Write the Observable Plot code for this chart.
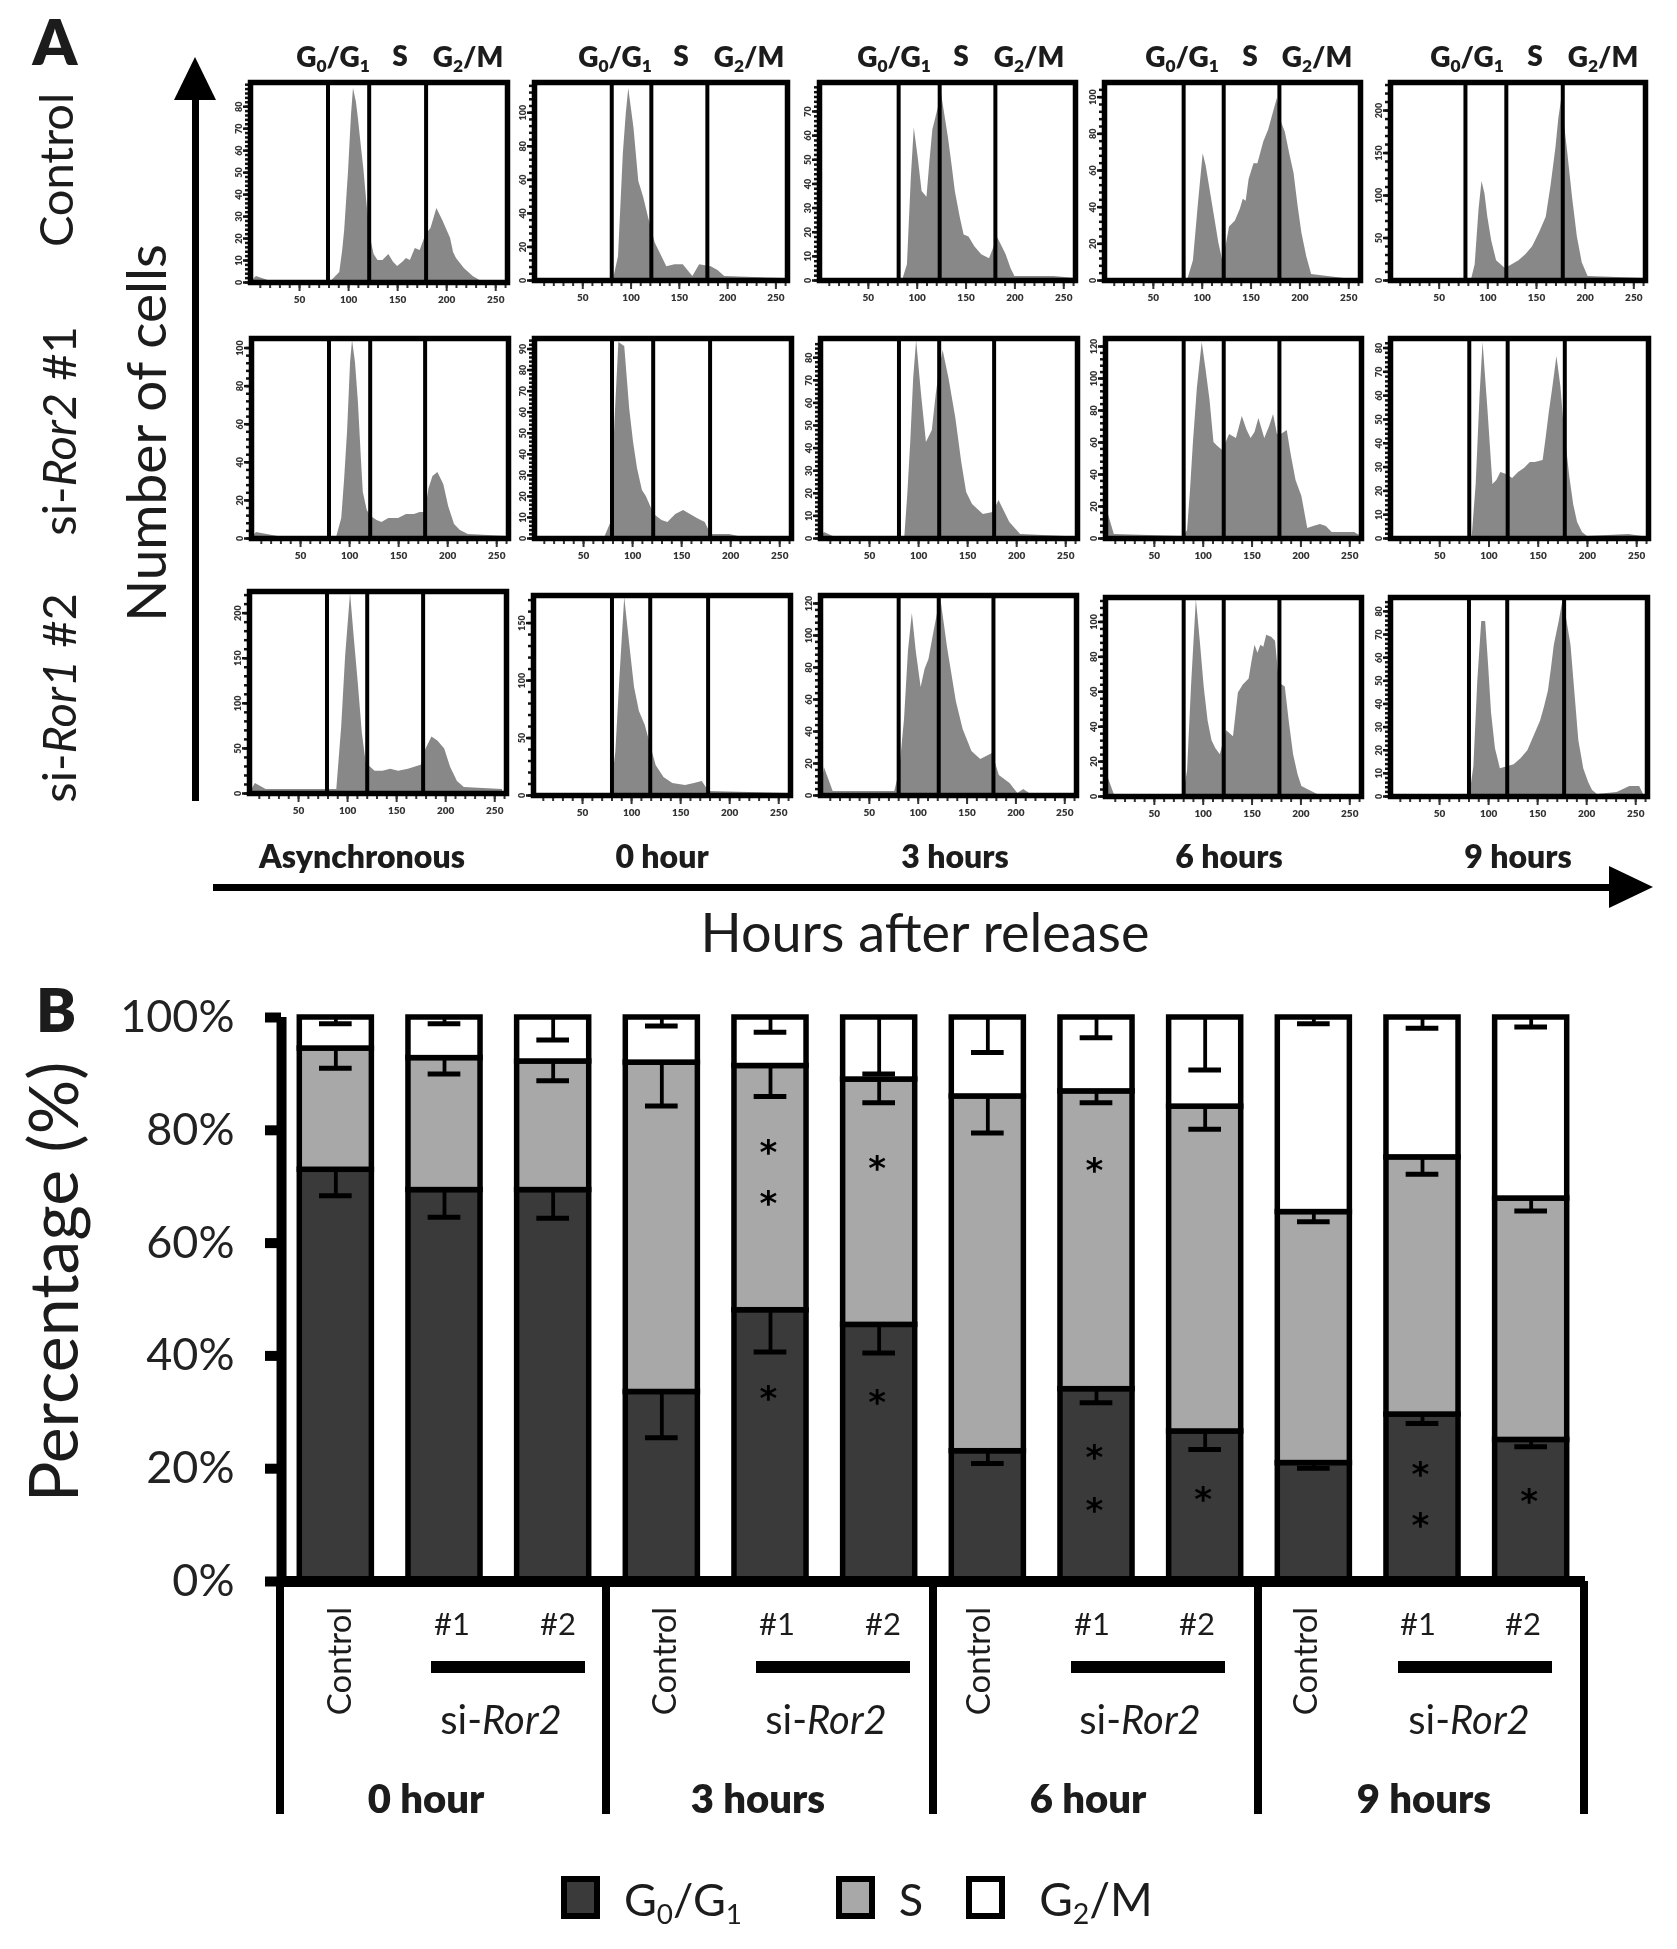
<!DOCTYPE html>
<html><head><meta charset="utf-8">
<script src="https://cdn.jsdelivr.net/npm/d3@7"></script>
<script src="https://cdn.jsdelivr.net/npm/@observablehq/plot@0.6"></script>
<style>
html,body{margin:0;padding:0;background:#fff}
#root{position:relative;width:1677px;height:1949px;overflow:hidden;background:#fff;font-family:Lato,sans-serif;color:#1c1c1c;filter:blur(.55px)}
#root svg{position:absolute;overflow:visible;background:transparent}
#root svg.panel{filter:blur(.5px)}
.t{position:absolute;white-space:nowrap;line-height:1.2}
.b{position:absolute;background:#000}
sub{font-size:.62em;line-height:0;vertical-align:-.28em}
</style></head><body><div id="root"></div>
<script>
// ---------- Panel A: flow histograms, [channel, % of frame height] ----------
const r1c1=[[0,0],[6,3],[18,1],[83,1],[91,5],[94,16],[96,26],[100,56],[103,84],[105,97],[108,90],[110,82],[113,68],[115.5,57],[119,38],[123,21],[126,14],[130,11],[135,11],[141,14],[146,10],[150,8],[155,10],[159,12],[163,11],[168,17],[173,16],[179,24],[184,27],[190,37],[196,31],[204,22],[207,15],[210,12],[218,7],[227,3],[234,1],[262,1]];
const r1c2=[[2,1],[82,1],[87,12],[92,64],[95,84],[97.6,97],[103,77],[108,50],[113,42],[118,32],[125,19],[131,13],[137,7],[145.5,8],[154,8],[164,2],[171,8],[183,7],[190,5],[197,2],[258,1]];
const r1c3=[[3,1],[85,0],[90,8],[94,52],[97,77],[101,62],[105,45],[110,42],[113,60],[116,76],[120,84],[125,94],[132,72],[136,57],[139,45],[144,32],[148,23],[153,22],[159,17],[166,13],[174,11],[178,16],[182,22],[187,17],[191,13],[196,6],[200,2],[222,2],[240,2],[262,1]];
const r1c4=[[2,0],[85,0],[91,10],[96,38],[101,64],[104,58],[108,46],[113,31],[117,19],[121,10],[125,19],[128,27],[134,30],[139,36],[142,41],[145,40],[148,51],[153,59],[157,59],[163,70],[168,76],[173,85],[177,92],[181,80],[185,75],[190,63],[194,54],[198,38],[202,24],[207,12],[212,3],[262,0]];
const r1c5=[[2,1],[83,0],[87,8],[91,36],[94,50],[97,44],[100,32],[104,20],[109,10],[118,6],[125,8],[132,10],[139,13],[146,17],[153,24],[160,32],[165,48],[170,67],[173,82],[176,92],[179,78],[182,65],[187,42],[192,22],[197,9],[203,2],[262,1]];
const r2c1=[[0,0],[5,3],[27,1],[87,1],[92,10],[95,30],[98,54],[101,88],[103,99],[106,88],[109,68],[112,40],[114,23],[118,14],[122,11],[128,9],[133,8],[140,10],[150,10],[158,12],[166,12],[172,13],[177,13],[181,25],[185,31],[190,33],[196,27],[201,16],[207,7],[213,4],[221,2],[262,1]];
const r2c2=[[3,1],[72,1],[78,8],[82,58],[86,98],[92,96],[97,65],[101,48],[105,35],[110,24],[114,21],[122,12],[130,9],[136,8],[144,12],[152,14],[159,12],[166,10],[174,8],[180,2],[199,2],[208,1],[262,0]];
const r2c3=[[0,0],[4,3],[13,1],[86,1],[89,22],[92,48],[95,80],[98,99],[103,72],[108,48],[114,54],[118,72],[122,86],[125,94],[131,80],[138,60],[144,38],[149,23],[155,17],[166,12],[176,13],[182,19],[188,13],[193,8],[204,2],[250,1],[262,1]];
const r2c4=[[0,0],[3,12],[9,2],[80,1],[84,4],[87,24],[90,48],[94,75],[99,98],[103,84],[107,69],[111,48],[115,46],[120,44],[127,52],[134,50],[140,61],[145,54],[149,50],[153,53],[157,60],[163,50],[168,56],[172,62],[176,52],[180,52],[186,54],[190,42],[195,29],[201,21],[207,5],[213,6],[220,7],[226,6],[232,3],[255,3],[262,1]];
const r2c5=[[3,1],[83,1],[87,27],[91,72],[94,98],[99,64],[104,27],[108,29],[112,33],[118,32],[124,30],[130,33],[136,35],[142,38],[147,38],[155,39],[158,50],[161,62],[165,76],[169,91],[173,76],[176,58],[182,31],[186,17],[190,8],[195,3],[200,1],[242,2],[256,1]];
const r3c1=[[0,0],[6,5],[17,2],[89,2],[94,33],[98,68],[103,99],[107,76],[111,54],[115,30],[119,15],[128,11],[136,11],[144,12],[152,11],[162,12],[175,14],[180,22],[186,28],[192,26],[199,22],[205,13],[212,6],[219,3],[258,2]];
const r3c2=[[3,1],[79,1],[84,22],[88,58],[93,99],[98,76],[103,54],[108,42],[114,35],[120,24],[125,15],[133,9],[142,6],[155,5],[164,6],[172,7],[179,2],[258,1]];
const r3c3=[[0,0],[4,14],[13,2],[76,2],[81,12],[86,38],[90,72],[94,91],[98,72],[103,54],[107,63],[111,68],[117,84],[123,99],[130,74],[139,47],[146,33],[155,22],[164,18],[176,21],[183,10],[194,6],[202,1],[208,3],[214,1],[262,1]];
const r3c4=[[0,0],[3,9],[9,1],[80,1],[84,13],[88,55],[93,99],[97,78],[101,55],[105,38],[109,28],[113,24],[117.5,21],[124,33],[131,30],[136,52],[141,56],[147,59],[150,68],[153,76],[156,72],[159,76],[162,75],[165,81],[170,80],[174,78],[178,57],[184,55],[188,38],[192.5,21],[197,11],[201,5],[217,1],[262,1]];
const r3c5=[[3,1],[81,1],[85,15],[89,58],[93,88],[97,88],[100,66],[103,42],[107,24],[112,14],[119,15],[126,16],[133,19],[140,23],[147,31],[153,38],[157,45],[161,53],[164,64],[167,76],[172,88],[176,99],[180,88],[184,76],[188,52],[192,28],[197,14],[202,7],[206,3],[211,1],[231,2],[244,5],[254,5],[258,1]];
const histograms=[[r1c1,r1c2,r1c3,r1c4,r1c5],[r2c1,r2c2,r2c3,r2c4,r2c5],[r3c1,r3c2,r3c3,r3c4,r3c5]];
const gates=[
 [[79,121,179],[80,121,179],[81,123,180],[81,122,179],[77,119,177]],
 [[79,121,177],[79,121,179],[80,121,177],[80,121,178],[80,119,177]],
 [[79,120,177],[80,119,178],[80,121,177],[80,121,178],[80,119,177]]];
const yMax=[[91,118,82,108,233],[105,95,88.5,125,84],[224,174,125,114,86]];
const yStep=[[10,20,10,20,50],[20,10,10,20,10],[50,50,20,20,10]];
const xTicks=[50,100,150,200,250];
// ---------- Panel placement ----------
const lefts=[[250,534,819,1104,1390],[251,534,820,1105,1390],[249,533,820,1105,1390]];
const rights=[[507,787,1075,1360,1645],[508,791,1077,1361,1648],[506,790,1076,1361,1647]];
const tops=[[82,82,82,82,82],[338,338,338,338,338],[591,595,595,597,597]];
const bottoms=[[282,280,280,280,280],[538,538,538,538,538],[793,795,795,796,796]];
// ---------- Panel B: stacked bars ----------
const barKeys=["0h Control","0h #1","0h #2","3h Control","3h #1","3h #2","6h Control","6h #1","6h #2","9h Control","9h #1","9h #2"];
const phases=["G0/G1","S","G2/M"];
const g0g1=[73,69.4,69.4,33.6,48.1,45.5,23.1,34.1,26.6,21,29.6,25.1];
const sPhase=[21.5,23.4,22.8,58.4,43.3,43.5,62.9,52.8,57.6,44.5,45.6,42.8];
const g2m=[5.5,7.2,7.8,8,8.6,11,14,13.1,15.8,34.5,24.8,32.1];
const g0Low=[68.4,64.6,64.4,25.5,40.7,40.5,20.9,31.7,23.4,20.1,28,23.9];
const sLow=[91,90,88.8,84.3,86,84.9,79.5,84.9,80.2,63.8,72.2,65.7];
const g2Low=[98.9,98.9,96,98.5,97.4,90,93.8,96.4,90.7,98.9,98.1,98.3];
const stars=[["3h #1",77.2],["3h #1",68.1],["3h #1",33.6],["3h #2",74.3],["3h #2",32.8],["6h #1",74],["6h #1",23.1],["6h #1",13.8],["6h #2",15.7],["9h #1",20.1],["9h #1",11],["9h #2",15.4]];
const percentTicks=[0,20,40,60,80,100];
const phaseColors=["#3a3a3a","#a8a8a8","#ffffff"];

const root=document.getElementById("root");
function txt(html,cx,cy,size,o={}){
  const d=document.createElement("div");d.className="t";d.innerHTML=html;
  d.style.left=cx+"px";d.style.top=cy+"px";d.style.fontSize=size+"px";
  d.style.fontWeight=o.w||400;if(o.i)d.style.fontStyle="italic";
  d.style.transform=`translate(-50%,-50%) rotate(${o.r||0}deg) scaleX(${o.sx||1})`;
  root.appendChild(d);return d;
}
function box(x,y,w,h){const d=document.createElement("div");d.className="b";
  d.style.cssText=`left:${x}px;top:${y}px;width:${w}px;height:${h}px`;root.appendChild(d);}

// histogram panels
const ml=34,mr=8,mt=8,mb=30;
histograms.forEach((row,r)=>row.forEach((hist,c)=>{
  const w=rights[r][c]-lefts[r][c],h=bottoms[r][c]-tops[r][c],ym=yMax[r][c],st=yStep[r][c];
  const major=d3.range(0,ym*.97,st),minor=d3.range(0,ym*.99,st/5);
  const p=Plot.plot({width:w+ml+mr,height:h+mt+mb,marginLeft:ml,marginRight:mr,marginTop:mt,marginBottom:mb,
    x:{domain:[0,262]},y:{domain:[0,ym]},
    className:"panel",
    style:{background:"transparent",fontFamily:"Lato"},
    marks:[
      Plot.areaY(hist,{x:d=>d[0],y:d=>d[1]*ym/100,fill:"#888"}),
      Plot.ruleX(gates[r][c],{stroke:"#000",strokeWidth:4}),
      Plot.axisX(d3.range(10,261,10),{tickSize:6,tickFormat:()=>"",strokeWidth:2,stroke:"#333",label:null}),
      Plot.axisX(xTicks,{tickSize:9,tickPadding:4,fontSize:10,fontWeight:800,fill:"#333",strokeWidth:2,stroke:"#333",label:null}),
      Plot.axisY(minor,{tickSize:5,tickFormat:()=>"",strokeWidth:2.5,stroke:"#111",label:null}),
      Plot.axisY(major,{tickSize:7,tickPadding:2,tickRotate:-90,fontSize:9,fontWeight:800,fill:"#333",strokeWidth:2.5,stroke:"#111",label:null}),
      Plot.frame({stroke:"#000",strokeWidth:5.5})
    ]});
  p.classList.add("panel");
  p.style.left=(lefts[r][c]-ml)+"px";p.style.top=(tops[r][c]-mt)+"px";
  root.appendChild(p);
}));

// panel A text
txt("A",55,41,63,{w:800});
[["Control",55,170],["si-<i>Ror2</i> #1",58,431],["si-<i>Ror1</i> #2",58,698]].forEach(a=>txt(a[0],a[1],a[2],47,{r:-90}));
txt("Number of cells",145,433,55,{r:-90});
txt("Hours after release",925,932,54);
[["Asynchronous",362],["0 hour",662],["3 hours",955],["6 hours",1229],["9 hours",1518]].forEach(a=>txt(a[0],a[1],856,32,{w:800}));
[[333,400,468],[615,681,749],[894,961,1029],[1182,1250,1317],[1467,1535,1603]].forEach(a=>{
  txt("G<sub>0</sub>/G<sub>1</sub>",a[0],57,28,{w:800});
  txt("S",a[1],56,28,{w:800});
  txt("G<sub>2</sub>/M",a[2],57,28,{w:800});
});
// arrows
box(192,95,6.5,706);
box(213,884,1400,7);
const ar=document.createElementNS("http://www.w3.org/2000/svg","svg");
ar.setAttribute("width",1677);ar.setAttribute("height",1000);ar.style.left="0";ar.style.top="0";
ar.innerHTML='<path d="M195 57L216 100L174 100Z"/><path d="M1653 887L1609 866L1609 908Z"/>';
root.appendChild(ar);

// panel B
const table=barKeys.flatMap((key,i)=>[
  {key,phase:phases[0],value:g0g1[i]},{key,phase:phases[1],value:sPhase[i]},{key,phase:phases[2],value:g2m[i]}]);
const errs=barKeys.flatMap((key,i)=>[
  {key,top:g0g1[i],low:g0Low[i]},{key,top:g0g1[i]+sPhase[i],low:sLow[i]},{key,top:100,low:g2Low[i]}]);
const bp=Plot.plot({width:1677,height:700,marginLeft:281,marginRight:92,marginTop:57,marginBottom:79,
  x:{domain:barKeys,padding:0,round:false,axis:null},
  y:{domain:[0,100]},
  color:{domain:phases,range:phaseColors},
  style:{background:"transparent",fontFamily:"Lato"},
  marks:[
    Plot.barY(table,{x:"key",y:"value",fill:"phase",stroke:"#000",strokeWidth:5.5,insetLeft:18.3,insetRight:18.3}),
    Plot.ruleX(errs,{x:"key",y1:"top",y2:"low",stroke:"#000",strokeWidth:3.8}),
    Plot.tickY(errs,{x:"key",y:"low",stroke:"#000",strokeWidth:5,insetLeft:38,insetRight:38}),
    Plot.text(stars,{x:d=>d[0],y:d=>d[1],text:()=>"*",fontSize:34,fontWeight:700,fill:"#000",dy:7,dx:-2,fontFamily:"DejaVu Sans"}),
    Plot.ruleX([barKeys[0]],{y1:0,y2:100,dx:-54.3,stroke:"#000",strokeWidth:10}),
    Plot.ruleY([0],{stroke:"#000",strokeWidth:11}),
    Plot.axisY(percentTicks,{tickSize:16,tickPadding:31,strokeWidth:10,stroke:"#000",fontSize:45,fill:"#222",tickFormat:d=>d+"%",label:null,marginLeft:281})
  ]});
bp.style.left="0";bp.style.top="960px";
root.appendChild(bp);

txt("B",56,1009,60,{w:800});
txt("Percentage (%)",52,1282,68,{r:-90});
// group dividers below the axis
[280,606,933,1258,1584].forEach(x=>box(x-4,1581,8,233));
// thick bars
[431,756,1071,1398].forEach(x=>box(x,1661,154,12));
[339,664,978,1305].forEach(x=>txt("Control",x,1661,33,{r:-90}));
[452,777,1092,1418].forEach(x=>txt("#1",x,1624,31));
[558,883,1197,1523].forEach(x=>txt("#2",x,1624,31));
[501,826,1140,1469].forEach(x=>txt("si-<i>Ror2</i>",x,1719,40));
[["0 hour",426],["3 hours",758],["6 hour",1088],["9 hours",1424]].forEach(a=>txt(a[0],a[1],1798,40,{w:800}));
// legend
[[561,"#3a3a3a"],[836,"#a8a8a8"],[966,"#fff"]].forEach(a=>{
  const d=document.createElement("div");
  d.style.cssText=`position:absolute;left:${a[0]}px;top:1876px;width:39px;height:43px;box-sizing:border-box;border:6px solid #000;background:${a[1]}`;
  root.appendChild(d);
});
txt("G<sub>0</sub>/G<sub>1</sub>",683,1899,45);
txt("S",911,1899,45);
txt("G<sub>2</sub>/M",1096,1899,46);
</script></body></html>
